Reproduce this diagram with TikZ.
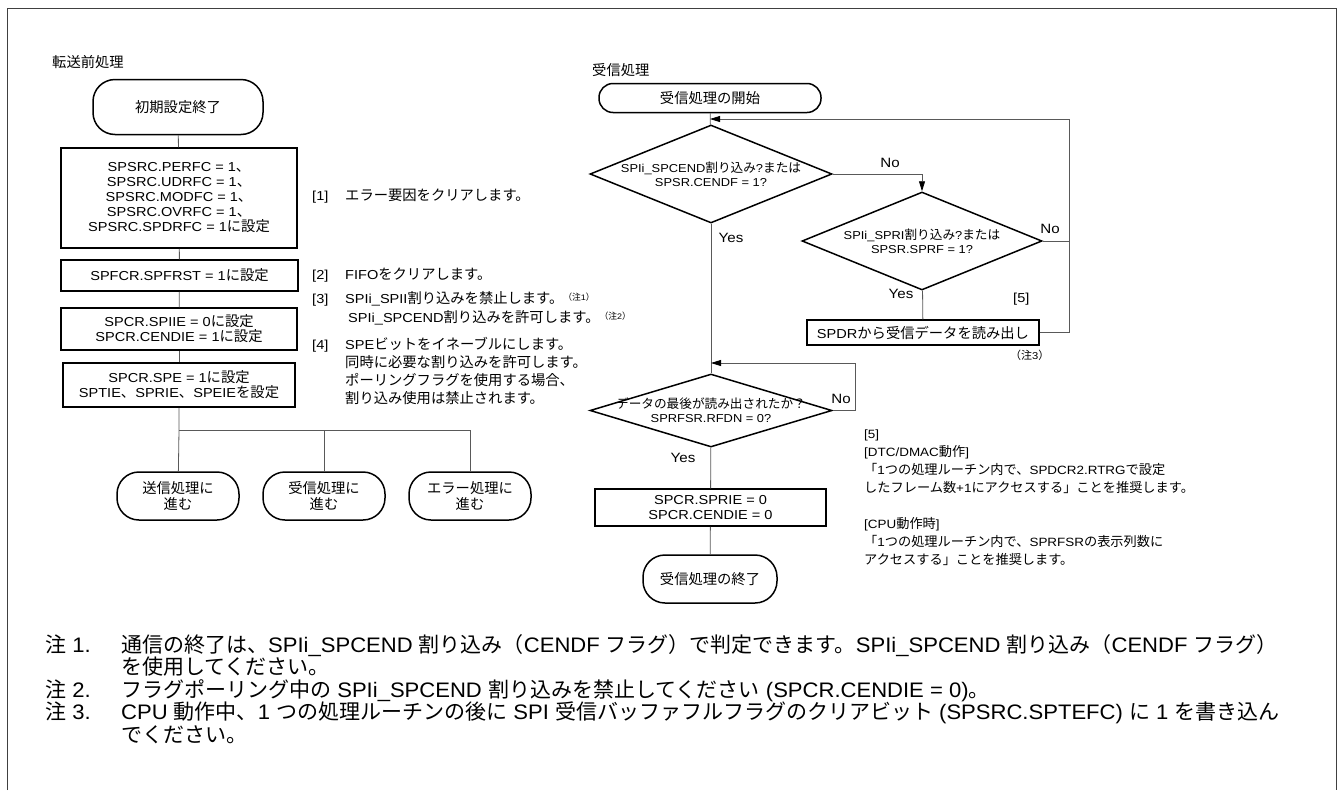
\documentclass[tikz,border=0pt]{standalone}
\usepackage{fontspec}
\setmainfont{Liberation Sans}[FakeStretch=1.12]
\newfontfamily\latinfont{Liberation Sans}[FakeStretch=1.12]
\newfontfamily\notelatin{Liberation Sans}[FakeStretch=1.05]
\newfontfamily\jpfont{Noto Sans CJK JP}[Scale=1.1]
\newfontfamily\jpnfont{Noto Sans CJK JP}
\usetikzlibrary{arrows.meta,shapes.geometric}

% japanese characters get the CJK font
\XeTeXinterchartokenstate=1
\newXeTeXintercharclass\jpclass
\newcount\jpcnt
\def\jprange#1#2{\jpcnt=#1 \loop\XeTeXcharclass\jpcnt=\jpclass\advance\jpcnt by 1 \ifnum\jpcnt<#2 \repeat}
\jprange{"3000}{"3100}
\jprange{"4E00}{"A000}
\jprange{"FF00}{"FFF0}
\def\tolatin{\latinfont}
\def\tojp{\jpfont}
\XeTeXinterchartoks 0 \jpclass={\tojp}
\XeTeXinterchartoks 4095 \jpclass={\tojp}
\XeTeXinterchartoks \jpclass 0={\tolatin}
\XeTeXinterchartoks \jpclass 4095={\tolatin}

\newcommand{\chu}[1]{\raisebox{3pt}{\fontsize{8}{8}\selectfont （注#1）}}

\begin{document}
\begin{tikzpicture}[x=1pt, y=-1pt,
    term/.style = {draw, line width=1.5pt, rounded corners=22pt, align=center, inner sep=0pt, font=\fontsize{13}{16}\selectfont},
    proc/.style = {draw, line width=1.5pt, align=center, inner sep=0pt, font=\fontsize{13}{15}\selectfont},
    dec/.style = {draw, line width=1.5pt, diamond, inner sep=0pt},
    dtext/.style = {align=center, inner sep=0pt, font=\fontsize{11.5}{14}\selectfont},
    conn/.style = {draw=black!65, line width=0.8pt},
    arr/.style = {-{Triangle[length=10pt,width=6pt,color=black]}},
    yn/.style = {inner sep=0pt, font=\fontsize{13.5}{16}\selectfont},
    note/.style = {anchor=base west, inner sep=0pt, font=\fontsize{13}{16}\selectfont},
    chunote/.style = {anchor=base west, inner sep=0pt, font=\fontsize{21}{24}\selectfont\let\tolatin\notelatin\let\tojp\jpnfont\notelatin}]
  \useasboundingbox (0,0) rectangle (1343,790);
  \draw[line width=0.8pt, black!75] (7,790) -- (7,8) -- (1336,8) -- (1336,790);

  % 転送前処理
  \node[note] (ttl1) at (52,67) {転送前処理};
  \node[term, minimum width=170pt, minimum height=55pt] (init) at (178,107) {初期設定終了};
  \node[proc, minimum width=236pt, minimum height=100pt] (errclr) at (179,198)
    {SPSRC.PERFC = 1、\\SPSRC.UDRFC = 1、\\SPSRC.MODFC = 1、\\SPSRC.OVRFC = 1、\\SPSRC.SPDRFC = 1に設定};
  \node[proc, minimum width=237pt, minimum height=31pt] (fifo) at (179.5,275.5) {SPFCR.SPFRST = 1に設定};
  \node[proc, minimum width=236pt, minimum height=42pt] (intr) at (179,329) {SPCR.SPIIE = 0に設定\\SPCR.CENDIE = 1に設定};
  \node[proc, minimum width=232pt, minimum height=44pt] (spe) at (179,385) {SPCR.SPE = 1に設定\\SPTIE、SPRIE、SPEIEを設定};
  \coordinate (fork) at (179,430);
  \node[term, minimum width=122pt, minimum height=48pt] (txgo) at (178,496) {送信処理に\\進む};
  \node[term, minimum width=122pt, minimum height=48pt] (rxgo) at (324,496) {受信処理に\\進む};
  \node[term, minimum width=122pt, minimum height=48pt] (ergo) at (470,496) {エラー処理に\\進む};

  \draw[conn] (init) -- (errclr);
  \draw[conn] (errclr) -- (fifo);
  \draw[conn] (fifo) -- (intr);
  \draw[conn] (intr) -- (spe);
  \draw[conn] (spe) -- (fork) -- (txgo);
  \draw[conn] (fork) -| (ergo);
  \draw[conn] (rxgo) -- (rxgo |- fork);

  % notes [1]-[4]
  \node[note] (s1) at (312,200) {[1]};
  \node[note] (s1t) at (345,200) {エラー要因をクリアします。};
  \node[note] (s2) at (312,279) {[2]};
  \node[note] (s2t) at (345,279) {FIFOをクリアします。};
  \node[note] (s3) at (312,303) {[3]};
  \node[note] (s3a) at (345,303) {SPIi\_SPII割り込みを禁止します。\chu{1}};
  \node[note] (s3b) at (348,322) {SPIi\_SPCEND割り込みを許可します。\chu{2}};
  \node[note] (s4) at (312,349) {[4]};
  \foreach \t [count=\i from 0] in {SPEビットをイネーブルにします。, 同時に必要な割り込みを許可します。,
      ポーリングフラグを使用する場合、, 割り込み使用は禁止されます。}
    \node[note] (s4t\i) at (345,349+18.3*\i) {\t};

  % 受信処理
  \node[note] (ttl2) at (592,75) {受信処理};
  \node[term, rounded corners=14pt, minimum width=222pt, minimum height=29pt] (rxbeg) at (710,98) {受信処理の開始};
  \node[dec, minimum width=242pt, minimum height=98pt] (cend) at (711,174) {};
  \node[dtext] (cendt) at (cend) {SPIi\_SPCEND割り込み?または\\SPSR.CENDF = 1?};
  \node[dec, minimum width=240pt, minimum height=98pt] (sprf) at (922,241) {};
  \node[dtext] (sprft) at (sprf) {SPIi\_SPRI割り込み?または\\SPSR.SPRF = 1?};
  \node[proc, minimum width=232pt, minimum height=25pt] (rdata) at (923,332.5) {SPDRから受信データを読み出し};
  \node[dec, minimum width=242pt, minimum height=73pt] (rfdn) at (711,410.5) {};
  \node[dtext] (rfdnt) at (rfdn) {データの最後が読み出されたか？\\SPRFSR.RFDN = 0?};
  \node[proc, minimum width=231pt, minimum height=37pt] (ieoff) at (710.5,507.5) {SPCR.SPRIE = 0\\SPCR.CENDIE = 0};
  \node[term, minimum width=134pt, minimum height=48pt] (rxend) at (710,579) {受信処理の終了};
  \coordinate (loopa) at (1069,119);
  \coordinate (loopb) at (855,363);

  \draw[conn] (rxbeg) -- (cend);
  \draw[conn, arr] (cend.east) -| (sprf.north);
  \draw[conn] (sprf.east) -- (sprf.east -| loopa);
  \draw[conn] (sprf) -- (rdata);
  \draw[conn, arr] (rdata.east) -| (loopa) -- (rxbeg.south |- loopa);
  \draw[conn] (cend) -- (rfdn);
  \draw[conn, arr] (rfdn.east) -| (loopb) -- (rfdn.north |- loopb);
  \draw[conn] (rfdn) -- (ieoff);
  \draw[conn] (ieoff) -- (rxend);

  \node[yn] (no1) at (890,163) {No};
  \node[yn] (yes1) at (731,238) {Yes};
  \node[yn] (no2) at (1050,229) {No};
  \node[yn] (yes2) at (901,294) {Yes};
  \node[yn] (no3) at (841,399) {No};
  \node[yn] (yes3) at (683,458) {Yes};
  \node[note] (s5) at (1013,302) {[5]};
  \node[note, font=\fontsize{10}{12}\selectfont] (n3) at (1010,359) {（注3）};

  \foreach \t [count=\i from 0] in {{[5]}, {[DTC/DMAC動作]}, 「1つの処理ルーチン内で、SPDCR2.RTRGで設定,
      したフレーム数+1にアクセスする」ことを推奨します。}
    \node[note, font=\fontsize{12}{16}\selectfont] (s5a\i) at (864,438+18.3*\i) {\t};
  \foreach \t [count=\i from 0] in {{[CPU動作時]}, 「1つの処理ルーチン内で、SPRFSRの表示列数に,
      アクセスする」ことを推奨します。}
    \node[note, font=\fontsize{12}{16}\selectfont] (s5b\i) at (864,528+18.3*\i) {\t};

  % 注
  \node[chunote] (c1) at (45,652) {注 1.};
  \node[chunote] (c1a) at (121,652) {通信の終了は、SPIi\_SPCEND 割り込み（CENDF フラグ）で判定できます。SPIi\_SPCEND 割り込み（CENDF フラグ）};
  \node[chunote] (c1b) at (121,674) {を使用してください。};
  \node[chunote] (c2) at (45,697) {注 2.};
  \node[chunote] (c2a) at (121,697) {フラグポーリング中の SPIi\_SPCEND 割り込みを禁止してください (SPCR.CENDIE = 0)。};
  \node[chunote] (c3) at (45,719) {注 3.};
  \node[chunote] (c3a) at (121,719) {CPU 動作中、1 つの処理ルーチンの後に SPI 受信バッファフルフラグのクリアビット (SPSRC.SPTEFC) に 1 を書き込ん};
  \node[chunote] (c3b) at (121,742) {でください。};
\end{tikzpicture}
\end{document}
